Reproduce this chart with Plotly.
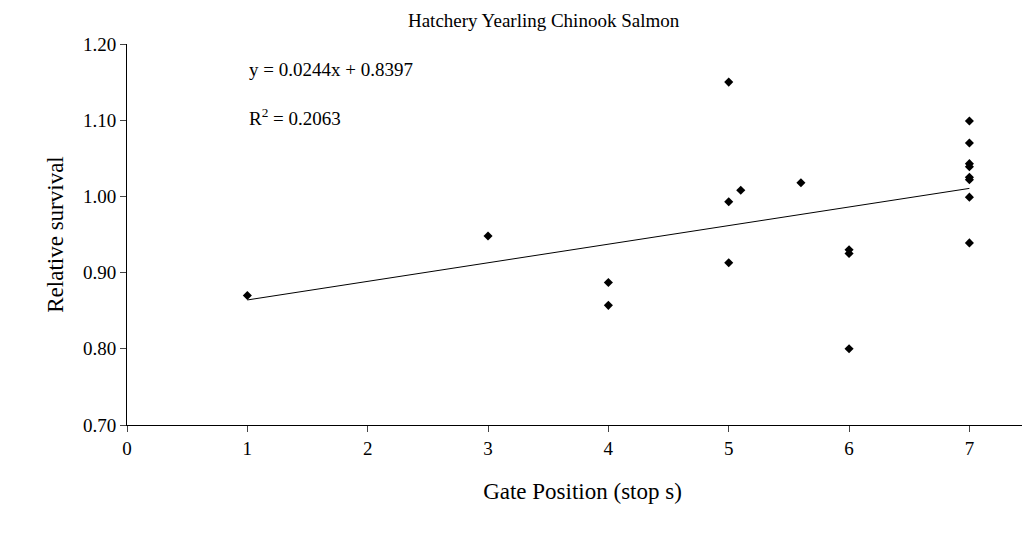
import plotly.graph_objects as go

x = [1, 3, 4, 4, 5, 5, 5, 5.1, 5.6, 6, 6, 6, 7, 7, 7, 7, 7, 7, 7, 7]
y = [0.870, 0.948, 0.887, 0.857, 1.150, 0.993, 0.913, 1.008, 1.018, 0.930, 0.925, 0.800,
     1.099, 1.070, 1.043, 1.039, 1.025, 1.022, 0.999, 0.939]
slope, intercept = 0.0244, 0.8397
fx = [1, 7]
fy = [slope * v + intercept for v in fx]

font = "Liberation Serif"
fig = go.Figure()
fig.add_trace(go.Scatter(x=fx, y=fy, mode="lines", line=dict(color="black", width=1), hoverinfo="skip"))
fig.add_trace(go.Scatter(x=x, y=y, mode="markers", marker=dict(symbol="diamond", size=7, color="black")))
fig.update_layout(
    width=1030, height=538, showlegend=False, plot_bgcolor="white", paper_bgcolor="white",
    margin=dict(l=119, r=0, t=36, b=121),
    font=dict(family=font, size=19, color="black"),
    title=dict(text="Hatchery Yearling Chinook Salmon", x=0.52, xanchor="center", y=0.99, yanchor="top",
               font=dict(size=19)),
    xaxis=dict(range=[0, 7.57], tickvals=[0, 1, 2, 3, 4, 5, 6, 7], showgrid=False, zeroline=False,
               showline=True, linecolor="black", ticks="outside", ticklen=6, automargin=False,
               title=dict(text="Gate Position (stop s)", standoff=25)),
    yaxis=dict(range=[0.70, 1.20], tickvals=[0.7, 0.8, 0.9, 1.0, 1.1, 1.2], tickformat=".2f",
               showgrid=False, zeroline=False, showline=True, linecolor="black", ticks="outside",
               ticklen=6, automargin=False, title=dict(text="Relative survival", standoff=12)),
    annotations=[dict(x=1.0, y=1.135, xref="x", yref="y", xanchor="left", showarrow=False,
                      text="y = 0.0244x + 0.8397<br><br>R<sup>2</sup> = 0.2063", align="left",
                      font=dict(size=19))],
)
fig.write_html("out.html")
